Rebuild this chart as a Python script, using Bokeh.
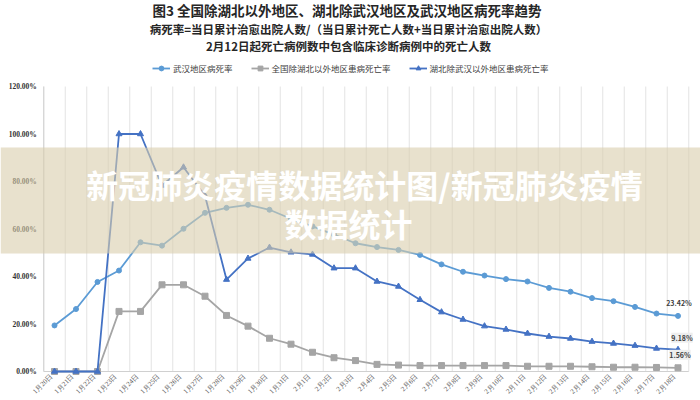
import math
from bokeh.plotting import figure
from bokeh.models import (ColumnDataSource, Label, LabelSet, Legend,
                          LegendItem, BoxAnnotation)
from bokeh.embed import file_html
from bokeh.resources import INLINE

# ---------------- data ----------------
dates = ["1月20日", "1月21日", "1月22日", "1月23日", "1月24日", "1月25日", "1月26日",
         "1月27日", "1月28日", "1月29日", "1月30日", "1月31日", "2月1日", "2月2日",
         "2月3日", "2月4日", "2月5日", "2月6日", "2月7日", "2月8日", "2月9日",
         "2月10日", "2月11日", "2月12日", "2月13日", "2月14日", "2月15日", "2月16日",
         "2月17日", "2月18日"]

wuhan = [19.4, 26.3, 37.7, 42.5, 54.4, 53.0, 60.1, 66.8, 68.9, 70.2, 68.1, 64.3,
         61.1, 57.6, 54.0, 52.4, 51.2, 49.1, 45.1, 42.0, 40.4, 38.9, 37.9, 35.2,
         33.6, 30.9, 29.6, 27.2, 24.4, 23.42]

national_ex_hubei = [0, 0, 0, 25.3, 25.3, 36.5, 36.5, 31.7, 23.6, 19.1, 14.0, 11.5,
                     8.1, 5.8, 4.6, 3.0, 2.7, 2.5, 2.5, 2.5, 2.5, 2.5, 2.2, 2.2,
                     2.2, 2.0, 1.8, 1.8, 1.7, 1.56]

hubei_ex_wuhan = [0, 0, 0, 100, 100, 78.3, 86.0, 74.0, 38.7, 47.6, 52.2, 50.2,
                  49.3, 43.5, 43.5, 37.9, 35.8, 30.2, 25.0, 21.9, 19.1, 17.7,
                  16.0, 14.7, 13.9, 12.6, 11.8, 10.9, 9.7, 9.18]

series_names = ["武汉地区病死率", "全国除湖北以外地区患病死亡率", "湖北除武汉以外地区患病死亡率"]

y_ticks = [0, 20, 40, 60, 80, 100, 120]
y_tick_labels = ["0.00%", "20.00%", "40.00%", "60.00%", "80.00%", "100.00%", "120.00%"]

title_text = "图3  全国除湖北以外地区、湖北除武汉地区及武汉地区病死率趋势"
subtitle1 = "病死率=当日累计治愈出院人数/（当日累计死亡人数+当日累计治愈出院人数）"
subtitle2 = "2月12日起死亡病例数中包含临床诊断病例中的死亡人数"
watermark1 = "新冠肺炎疫情数据统计图/新冠肺炎疫情"
watermark2 = "数据统计"

FONT = "Noto Sans CJK SC"
C_LIGHT = "#5B9BD5"
C_GRAY = "#A5A5A5"
C_DARK = "#4472C4"

# ---------------- layout (pixels on the canvas) ----------------
W, H = 700, 400
Y_MIN, Y_MAX = y_ticks[0], y_ticks[-1]
PLOT_TOP, PLOT_BOTTOM = 86, 371        # rows of 120% and 0%
FIRST_X, LAST_X = 54, 677.5            # columns of first and last category
n = len(dates)
py = (PLOT_BOTTOM - PLOT_TOP) / (Y_MAX - Y_MIN)
px = (LAST_X - FIRST_X) / (n - 1)
y_start = Y_MIN - (H - PLOT_BOTTOM) / py
y_end = Y_MAX + PLOT_TOP / py
x_start = 0 - FIRST_X / px
x_end = (n - 1) + (W - LAST_X) / px

idx = list(range(n))
src = ColumnDataSource(dict(x=idx, wuhan=wuhan, nat=national_ex_hubei,
                            hub=hubei_ex_wuhan, date=dates))

p = figure(width=W, height=H, x_range=(x_start, x_end), y_range=(y_start, y_end),
           output_backend="svg", toolbar_location=None,
           min_border_left=0, min_border_right=0, min_border_top=0,
           min_border_bottom=0)
p.title.visible = False
p.outline_line_color = None
p.background_fill_color = "white"
p.grid.visible = False
p.axis.visible = False

# vertical category separators
bounds = [i - 0.5 for i in range(n + 1)]
p.segment(x0=bounds, x1=bounds, y0=[Y_MIN] * len(bounds), y1=[Y_MAX] * len(bounds),
          line_color="#E3E3E3", line_width=1)
# y axis line and x baseline
p.segment(x0=[bounds[0], bounds[0]], y0=[Y_MIN, Y_MIN], x1=[bounds[0], bounds[-1]],
          y1=[Y_MAX, Y_MIN], line_color="#D0D0D0", line_width=1)

# y tick labels
ysrc = ColumnDataSource(dict(x=[bounds[0]] * len(y_ticks), y=y_ticks,
                             text=y_tick_labels))
p.add_layout(LabelSet(x="x", y="y", text="text", source=ysrc, x_offset=-7,
                      text_align="right", text_baseline="middle", text_font=FONT,
                      text_font_size="7.5px", text_font_style="bold",
                      text_color="#333333"))

# series
l_nat = p.line("x", "nat", source=src, color=C_GRAY, line_width=1.8)
m_nat = p.scatter("x", "nat", source=src, marker="square", size=6, color=C_GRAY)
l_wh = p.line("x", "wuhan", source=src, color=C_LIGHT, line_width=1.8)
m_wh = p.scatter("x", "wuhan", source=src, marker="circle", size=5, color=C_LIGHT)
l_hb = p.line("x", "hub", source=src, color=C_DARK, line_width=1.8)
m_hb = p.scatter("x", "hub", source=src, marker="triangle", size=6, color=C_DARK)

# x tick labels (rotated)
p.add_layout(LabelSet(x="x", y=Y_MIN, text="date", source=src, angle=math.pi / 4,
                      text_align="right", text_baseline="middle", x_offset=-3,
                      y_offset=-4, text_font=FONT, text_font_size="7px",
                      text_color="#595959"))

legend = Legend(items=[LegendItem(label=series_names[0], renderers=[l_wh, m_wh]),
                       LegendItem(label=series_names[1], renderers=[l_nat, m_nat]),
                       LegendItem(label=series_names[2], renderers=[l_hb, m_hb])],
                location=(152, H - 74), orientation="horizontal")
legend.background_fill_alpha = 0
legend.border_line_alpha = 0
legend.padding = 0
legend.margin = 0
legend.spacing = 18
legend.glyph_width = 18
legend.glyph_height = 12
legend.label_height = 12
legend.label_standoff = 3
legend.label_text_font = FONT
legend.label_text_font_size = "8.5px"
legend.label_text_color = "#404040"
p.add_layout(legend)

# titles
for txt, y, size in [(title_text, H - 9, "13.5px"), (subtitle1, H - 28, "11.5px"),
                     (subtitle2, H - 45, "11.5px")]:
    p.add_layout(Label(x=348, y=y, x_units="screen", y_units="screen", text=txt,
                       text_align="center", text_baseline="middle", text_font=FONT,
                       text_font_size=size, text_font_style="bold",
                       text_color="#262626"))

# end value labels
last = n - 1
for vals, xo, yo, bg in [(wuhan, 1, 13, None), (hubei_ex_wuhan, 4, 12, "#EEEEEE"),
                         (national_ex_hubei, 2, 13, "#EEEEEE")]:
    lab = Label(x=last, y=vals[last], text=f"{vals[last]:.2f}%", x_offset=xo,
                y_offset=yo, text_align="center", text_baseline="middle",
                text_font=FONT, text_font_size="7px", text_font_style="bold",
                text_color="#404040")
    if bg:
        lab.background_fill_color = bg
    p.add_layout(lab)

# watermark band and text
band = BoxAnnotation(top=H - 147, bottom=H - 253, top_units="screen",
                     bottom_units="screen", fill_color="#D8CDAC", fill_alpha=0.6,
                     line_alpha=0)
p.add_layout(band)
for txt, x, y in [(watermark1, 364, H - 183), (watermark2, 348, H - 222)]:
    p.add_layout(Label(x=x, y=y, x_units="screen", y_units="screen", text=txt,
                       text_align="center", text_baseline="middle", text_font=FONT,
                       text_font_size="32px", text_font_style="bold",
                       text_color="white"))

open("out.html", "w").write(file_html(p, INLINE))
